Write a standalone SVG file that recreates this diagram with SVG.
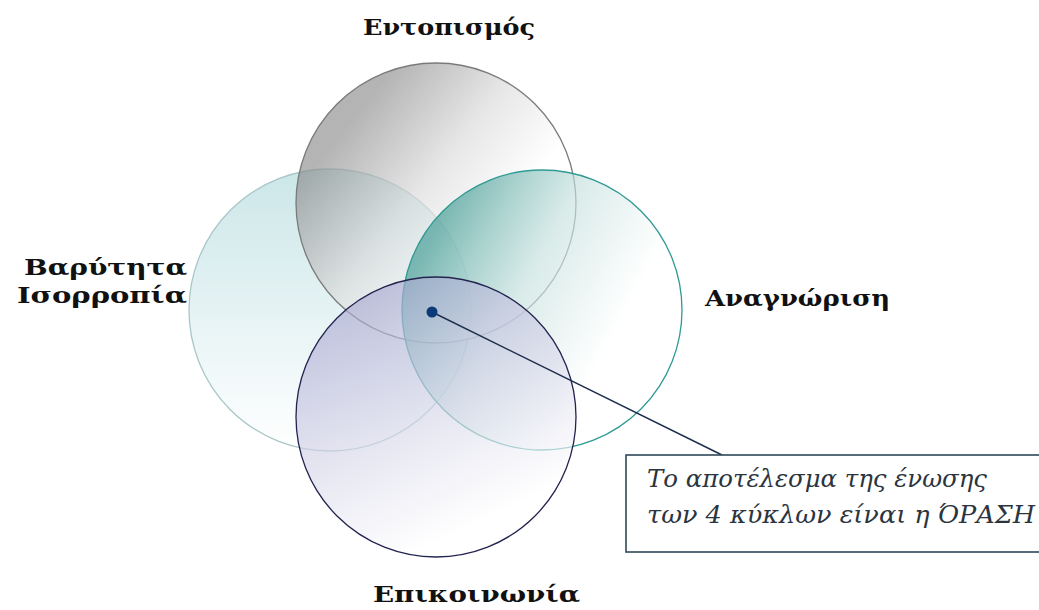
<svg xmlns="http://www.w3.org/2000/svg" width="1039" height="610" viewBox="0 0 1039 610">
  <defs>
    <linearGradient id="gTop" x1="0.2" y1="0.2" x2="0.7" y2="0.6">
      <stop offset="0" stop-color="#8c8c8c"/>
      <stop offset="0.55" stop-color="#dadada"/>
      <stop offset="1" stop-color="#ffffff"/>
    </linearGradient>
    <linearGradient id="gLeft" x1="0.5" y1="0" x2="0.5" y2="1">
      <stop offset="0" stop-color="#b0d9dc"/>
      <stop offset="1" stop-color="#ffffff"/>
    </linearGradient>
    <linearGradient id="gRight" x1="0.1" y1="0.25" x2="0.75" y2="0.6">
      <stop offset="0" stop-color="#3f9a92"/>
      <stop offset="0.5" stop-color="#c4e0dd"/>
      <stop offset="1" stop-color="#ffffff"/>
    </linearGradient>
    <linearGradient id="gBottom" x1="0.1" y1="0.1" x2="0.5" y2="0.95">
      <stop offset="0" stop-color="#a6a6cf"/>
      <stop offset="1" stop-color="#ffffff"/>
    </linearGradient>
  </defs>
  <style>
    .circ { fill-opacity: 0.65; stroke-width: 1.3; }
    .label { font-family: "DejaVu Serif", "Liberation Serif", serif; font-weight: bold; font-size: 23px; fill: #111; }
    .note { font-family: "DejaVu Serif", "Liberation Serif", serif; font-style: italic; font-size: 24px; fill: #2b3540; }
  </style>
  <rect width="1039" height="610" fill="#ffffff"/>

  <g id="node-left">
    <circle class="circ" cx="330" cy="310" r="141" fill="url(#gLeft)" stroke="#a9c6c8"/>
  </g>
  <g id="node-top">
    <circle class="circ" cx="436" cy="203" r="140" fill="url(#gTop)" stroke="#7a7a7a"/>
  </g>
  <g id="node-right">
    <circle class="circ" cx="542" cy="310" r="140" fill="url(#gRight)" stroke="#2e9a93" stroke-width="1.8"/>
  </g>
  <g id="node-bottom">
    <circle class="circ" cx="436" cy="417" r="140" fill="url(#gBottom)" stroke="#23234f" stroke-width="1.8"/>
  </g>

  <g id="labels">
    <text class="label" x="449" y="35" text-anchor="middle" textLength="172" lengthAdjust="spacingAndGlyphs">Εντοπισμός</text>
    <text class="label" x="187" y="275" text-anchor="end" textLength="163" lengthAdjust="spacingAndGlyphs">Βαρύτητα</text>
    <text class="label" x="187" y="303" text-anchor="end" textLength="170" lengthAdjust="spacingAndGlyphs">Ισορροπία</text>
    <text class="label" x="705" y="306" textLength="185" lengthAdjust="spacingAndGlyphs">Αναγνώριση</text>
    <text class="label" x="373" y="602" textLength="207" lengthAdjust="spacingAndGlyphs">Επικοινωνία</text>
  </g>

  <g id="connectors">
    <line x1="432" y1="312" x2="722" y2="455" stroke="#1d2d4d" stroke-width="1.4"/>
    <circle cx="432" cy="312" r="5.5" fill="#0b3a78"/>
  </g>

  <g id="node-callout">
    <rect x="626" y="455" width="430" height="97" fill="#ffffff" stroke="#2f4858" stroke-width="1.6"/>
    <text class="note" x="647" y="487" textLength="340" lengthAdjust="spacingAndGlyphs">Το αποτέλεσμα της ένωσης</text>
    <text class="note" x="647" y="523" textLength="388" lengthAdjust="spacingAndGlyphs">των 4 κύκλων είναι η ΌΡΑΣΗ</text>
  </g>
</svg>
